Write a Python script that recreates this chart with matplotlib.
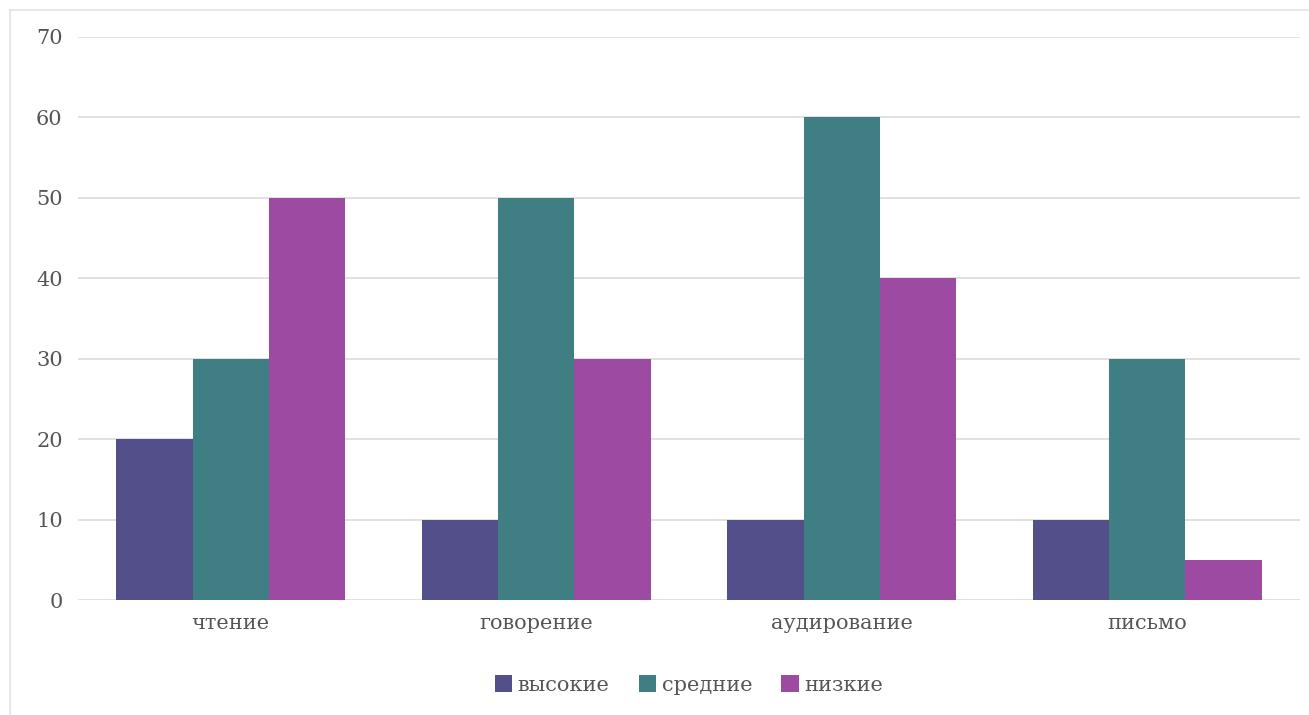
import matplotlib.pyplot as plt
import numpy as np
from matplotlib.lines import Line2D

categories = ['чтение', 'говорение', 'аудирование', 'письмо']
vysokie = [20, 10, 10, 10]
srednie = [30, 50, 60, 30]
nizkie = [50, 30, 40, 5]
series_names = ['высокие', 'средние', 'низкие']
colors = ['#534f8a', '#3f7e82', '#9d4aa2']

plt.rcParams['font.family'] = ['DejaVu Serif']

W, H = 1309, 715
fig = plt.figure(figsize=(W / 100, H / 100), dpi=100)
ax = fig.add_axes([78 / W, 115 / H, 1222 / W, 563 / H])

x = np.arange(len(categories))
w = 0.25
for i, (vals, name, c) in enumerate(zip([vysokie, srednie, nizkie], series_names, colors)):
    ax.bar(x + (i - 1) * w, vals, w, color=c, label=name, zorder=3)

ax.set_xlim(-0.5, 3.5)
ax.set_ylim(0, 70)
ax.set_yticks(range(0, 71, 10))
ax.yaxis.grid(True, color='#dcdcdc', linewidth=1.2, zorder=0)
for s in ax.spines.values():
    s.set_visible(False)
ax.tick_params(axis='both', length=0, labelsize=15, colors='#555555')
ax.tick_params(axis='y', pad=11)
ax.tick_params(axis='x', pad=10)
ax.set_xticks(x)
ax.set_xticklabels(categories)

leg = ax.legend(loc='upper center', bbox_to_anchor=(0.5, -0.1), ncol=3, frameon=False,
                fontsize=15, handlelength=0.85, handleheight=0.85, handletextpad=0.25,
                columnspacing=1.4)
for t in leg.get_texts():
    t.set_color('#555555')

# outer frame
fig.add_artist(Line2D([10 / W, 10 / W], [0, 1 - 10 / H], transform=fig.transFigure, color='#e4e4e4', lw=1.2))
fig.add_artist(Line2D([10 / W, 1], [1 - 10 / H, 1 - 10 / H], transform=fig.transFigure, color='#e4e4e4', lw=1.2))

fig.savefig('out.png', dpi=100)
